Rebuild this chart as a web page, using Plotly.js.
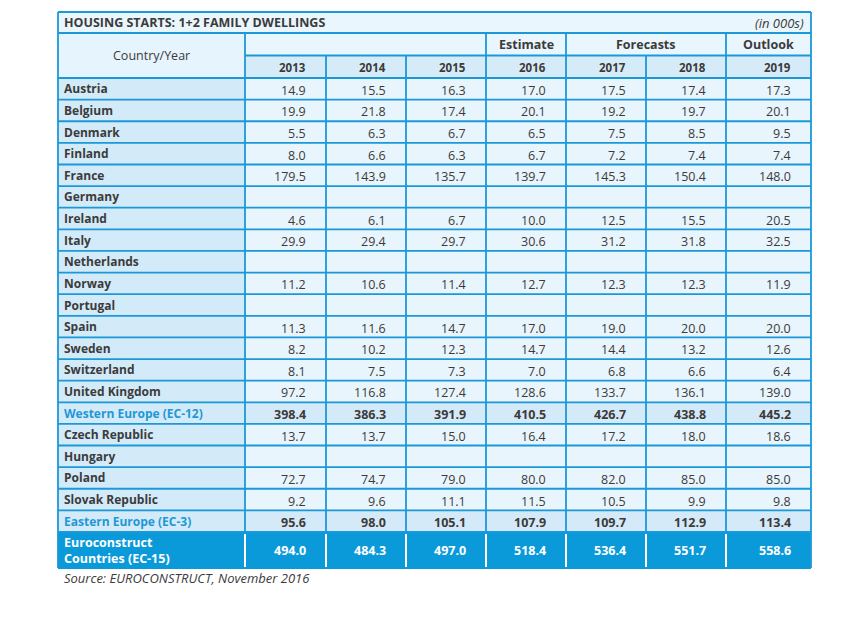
<!DOCTYPE html>
<html>
<head>
<meta charset="utf-8">
<script src="https://cdn.plot.ly/plotly-3.0.1.min.js"></script>
<style>html,body{margin:0;padding:0;background:#fff;}#chart{width:853px;height:626px;}</style>
</head>
<body>
<div id="chart"></div>
<script>
// ---------- DATA ----------
const tableTitle = "HOUSING STARTS: 1+2 FAMILY DWELLINGS";
const unitNote = "(in 000s)";
const cornerLabel = "Country/Year";
const years = ["2013","2014","2015","2016","2017","2018","2019"];
const periodGroups = ["", "Estimate", "Forecasts", "Outlook"];
const periodSpans  = [3, 1, 2, 1];
const countries = ["Austria","Belgium","Denmark","Finland","France","Germany","Ireland","Italy","Netherlands","Norway","Portugal","Spain","Sweden","Switzerland","United Kingdom","Western Europe (EC-12)","Czech Republic","Hungary","Poland","Slovak Republic","Eastern Europe (EC-3)"];
const y2013 = [14.9,19.9,5.5,8.0,179.5,null,4.6,29.9,null,11.2,null,11.3,8.2,8.1,97.2,398.4,13.7,null,72.7,9.2,95.6];
const y2014 = [15.5,21.8,6.3,6.6,143.9,null,6.1,29.4,null,10.6,null,11.6,10.2,7.5,116.8,386.3,13.7,null,74.7,9.6,98.0];
const y2015 = [16.3,17.4,6.7,6.3,135.7,null,6.7,29.7,null,11.4,null,14.7,12.3,7.3,127.4,391.9,15.0,null,79.0,11.1,105.1];
const y2016 = [17.0,20.1,6.5,6.7,139.7,null,10.0,30.6,null,12.7,null,17.0,14.7,7.0,128.6,410.5,16.4,null,80.0,11.5,107.9];
const y2017 = [17.5,19.2,7.5,7.2,145.3,null,12.5,31.2,null,12.3,null,19.0,14.4,6.8,133.7,426.7,17.2,null,82.0,10.5,109.7];
const y2018 = [17.4,19.7,8.5,7.4,150.4,null,15.5,31.8,null,12.3,null,20.0,13.2,6.6,136.1,438.8,18.0,null,85.0,9.9,112.9];
const y2019 = [17.3,20.1,9.5,7.4,148.0,null,20.5,32.5,null,11.9,null,20.0,12.6,6.4,139.0,445.2,18.6,null,85.0,9.8,113.4];
const totalLabel = ["Euroconstruct", "Countries (EC-15)"];
const totalValues = [494.0,484.3,497.0,518.4,536.4,551.7,558.6];
const sourceNote = "Source: EUROCONSTRUCT, November 2016";

// ---------- LAYOUT / STYLE ----------
const series = [y2013,y2014,y2015,y2016,y2017,y2018,y2019];
const colEdges = [58,245,326,406,486,566,646,726,811];
const T0 = 12, T1 = 33, H1 = 55.5, H2 = 78, B0 = 532, B1 = 568;
const nRows = countries.length;
const rowH = (B0 - H2) / nRows;
const rowTop = i => H2 + i*rowH;
const BORDER = "#1b98d8";
const LW = 1.8;
const FONT = "Open Sans, Lato, sans-serif";
const DARK = "#3b3b3b";
const isRegion = name => name.indexOf("(EC-") >= 0;

const shapes = [];
const ann = [];
function rect(x0,y0,x1,y1,fill){shapes.push({type:"rect",xref:"x",yref:"y",x0,y0,x1,y1,fillcolor:fill,line:{width:0},layer:"below"});}
function line(x0,y0,x1,y1,color,w){shapes.push({type:"line",xref:"x",yref:"y",x0,y0,x1,y1,line:{color:color||BORDER,width:w||LW}});}
function text(x,y,t,opt){ann.push(Object.assign({x,y,xref:"x",yref:"y",text:t,showarrow:false,xanchor:"left",yanchor:"middle",align:"left",font:{family:FONT,size:12,color:DARK}},opt));}

const L = colEdges[0], R = colEdges[colEdges.length-1];
// title row
rect(L,T0,R,T1,"#eaf6fd");
text(L+4,(T0+T1)/2,"<b>"+tableTitle+"</b>",{font:{family:FONT,size:12.5,color:DARK}});
text(R-5,(T0+T1)/2,"<i>"+unitNote+"</i>",{xanchor:"right",align:"right",font:{family:FONT,size:13,color:DARK}});
// header
rect(L,T1,colEdges[1],H2,"#e6f4fd");
rect(colEdges[1],T1,R,H1,"#eaf6fd");
rect(colEdges[1],H1,R,H2,"#d6ebf8");
text((L+colEdges[1])/2,(T1+H2)/2,cornerLabel,{xanchor:"center",align:"center",font:{family:FONT,size:12.5,color:DARK}});
let ci = 1;
periodGroups.forEach((g,k)=>{
  const x0 = colEdges[ci], x1 = colEdges[ci+periodSpans[k]];
  if (g) text((x0+x1)/2,(T1+H1)/2,"<b>"+g+"</b>",{xanchor:"center",align:"center",font:{family:FONT,size:12.5,color:DARK}});
  if (k>0) line(x0,T1,x0,H1);
  ci += periodSpans[k];
});
years.forEach((yr,j)=>{
  text(colEdges[j+2]-18,(H1+H2)/2+1,"<b>"+yr+"</b>",{xanchor:"right",align:"right",font:{family:FONT,size:11.5,color:DARK}});
});
// data rows
countries.forEach((c,i)=>{
  const y0 = rowTop(i), y1 = rowTop(i+1), ym = (y0+y1)/2;
  const reg = isRegion(c);
  rect(L,y0,colEdges[1],y1,"#d3eaf9");
  rect(colEdges[1],y0,R,y1,reg ? "#d5eaf8" : "#e8f5fd");
  text(L+4,ym,"<b>"+c+"</b>",{font:{family:FONT,size:12,color: reg ? "#1e98d6" : DARK}});
  series.forEach((s,j)=>{
    const v = s[i];
    if (v === null || v === undefined) return;
    const t = reg ? "<b>"+v.toFixed(1)+"</b>" : v.toFixed(1);
    text(colEdges[j+2]-18,ym+1.5,t,{xanchor:"right",align:"right",font:{family:FONT,size:12.5,color:DARK}});
  });
});
// total row
rect(L,B0,R,B1,"#0a9ad9");
text(L+4,(B0+B1)/2,"<b>"+totalLabel.join("<br>")+"</b>",{align:"left",font:{family:FONT,size:12.5,color:"#ffffff"}});
totalValues.forEach((v,j)=>{
  text(colEdges[j+2]-18,(B0+B1)/2,"<b>"+v.toFixed(1)+"</b>",{xanchor:"right",align:"right",font:{family:FONT,size:12.5,color:"#ffffff"}});
});
for (let k=1;k<colEdges.length-1;k++) line(colEdges[k],B0+2,colEdges[k],B1-1,"#ffffff",2);
// grid lines
line(L,T0,R,T0); line(L,T1,R,T1);
line(colEdges[1],H1,R,H1);
for (let i=0;i<=nRows;i++) line(L,rowTop(i),R,rowTop(i));
line(colEdges[1],T1,colEdges[1],B0);
for (let k=2;k<colEdges.length-1;k++) line(colEdges[k],H1,colEdges[k],B0);
line(L,T0,L,B1); line(R,T0,R,B1); line(L,B1,R,B1,"#0a9ad9");
// source
text(L+4,B1+10,"<i>"+sourceNote+"</i>",{font:{family:FONT,size:13,color:DARK}});

const layout = {
  width:853, height:626,
  margin:{l:0,r:0,t:0,b:0},
  paper_bgcolor:"#ffffff", plot_bgcolor:"#ffffff",
  xaxis:{range:[0,853],visible:false,fixedrange:true},
  yaxis:{range:[626,0],visible:false,fixedrange:true},
  shapes, annotations:ann, showlegend:false
};
Plotly.newPlot("chart",[{x:[],y:[],type:"scatter",mode:"markers",hoverinfo:"skip"}],layout,{displayModeBar:false,staticPlot:true});
</script>
</body>
</html>
